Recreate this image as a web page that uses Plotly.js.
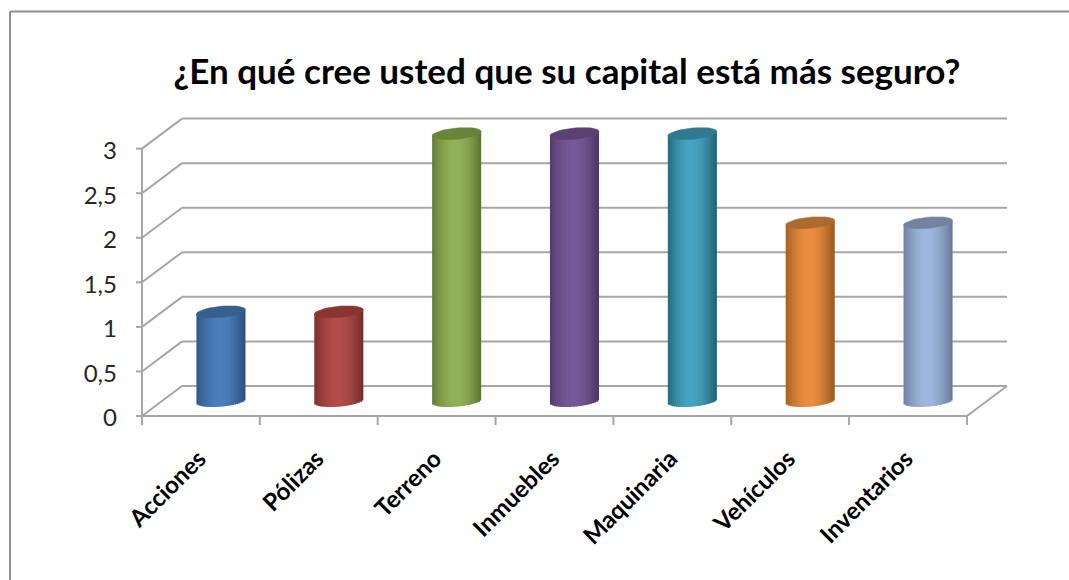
<!DOCTYPE html>
<html><head><meta charset="utf-8">
<script src="https://cdn.plot.ly/plotly-3.0.1.min.js"></script>
<style>html,body{margin:0;padding:0;background:#fff}#c{width:1069px;height:580px}</style>
</head><body><div id="c"></div>
<script>
const categories = ["Acciones","Pólizas","Terreno","Inmuebles","Maquinaria","Vehículos","Inventarios"];
const values = [1,1,3,3,3,2,2];
const yTicks = [0,0.5,1,1.5,2,2.5,3];
const yTickLabels = ["0","0,5","1","1,5","2","2,5","3"];
const midColors = ["#4a7ebb","#b34c49","#93b257","#775a98","#46a4c0","#ea8d40","#9fb7de"];
const edgeColors = ["#2b4f7a","#6f2c2a","#5a7031","#49345f","#205c70","#94581f","#64758f"];
const topColors = ["#355f8c","#893531","#6b8339","#5a4172","#2f7a90","#ab6a2e","#72829f"];

const W=1069,H=580,PAD=3,L=142-PAD,R=1007+PAD,Y0=416+PAD,PXU=89,CATW=(966-142)/7;
const TOP=113.4;
const depthX=40/CATW, depthY=30/PXU;
const xMin=-0.5, xMax=6.5+depthX;
const rx0=xMin-PAD/CATW, rx1=xMax+PAD/CATW, ry0=-PAD/PXU, ry1=(416-TOP)/PXU;
const barW=49/CATW, ea=24.5/CATW, eb=5.6/PXU, tilt=2.2/PXU;

function hex(c){return [1,3,5].map(i=>parseInt(c.substr(i,2),16));}
function mix(a,b,t){const A=hex(a),B=hex(b);return "rgb("+A.map((v,i)=>Math.round(v+(B[i]-v)*t)).join(",")+")";}

const data=[];
const N=24;
for(let s=0;s<N;s++){
  const t0=-1+2*s/N, t1=-1+2*(s+1)/N, t=(t0+t1)/2;
  const shade=Math.min(1,Math.pow(Math.abs(t+0.05)/1.05,1.8));
  const low=depthY/2+tilt*t-eb*Math.sqrt(Math.max(0,1-t*t));
  data.push({
    type:"bar",x:categories,
    base:values.map(()=>low),
    y:values.map(v=>v+depthY/2+tilt*t-low),
    offset:depthX/2+t0*barW/2,
    width:barW/N*(s===N-1?1:1.4),
    marker:{color:midColors.map((m,i)=>mix(m,edgeColors[i],shade)),line:{width:0}},
    hoverinfo:"skip",showlegend:false
  });
}
values.forEach((v,i)=>{
  const xs=[],ys=[];
  for(let k=0;k<=48;k++){
    const a=2*Math.PI*k/48;
    xs.push(i+depthX/2+ea*Math.cos(a));
    ys.push(v+depthY/2+eb*Math.sin(a)+tilt*Math.cos(a));
  }
  data.push({type:"scatter",mode:"lines",xaxis:"x2",yaxis:"y",x:xs,y:ys,fill:"toself",fillcolor:topColors[i],
    line:{width:0.5,color:topColors[i]},hoverinfo:"skip",showlegend:false});
});

const grey="#a6a6a6";
const gl=(x0,y0,x1,y1,c)=>({type:"line",xref:"x",yref:"y",x0,y0,x1,y1,layer:"below",line:{color:c||grey,width:2}});
const shapes=[];
yTicks.forEach(v=>{
  shapes.push(gl(xMin,v,xMin+depthX,v+depthY));
  shapes.push(gl(xMin+depthX,v+depthY,xMax,v+depthY));
});
shapes.push(gl(xMin,0,xMin,3));
shapes.push(gl(xMin,0,6.5,0));
shapes.push(gl(6.5,0,xMax,depthY));
const px=x=>(x-L)/(R-L), py=y=>(Y0-y)/(Y0-TOP);
const frame={color:"#8e8e8e",width:2};
shapes.push({type:"line",xref:"paper",yref:"paper",x0:px(10),y0:py(12),x1:px(1069),y1:py(12),line:frame});
shapes.push({type:"line",xref:"paper",yref:"paper",x0:px(10),y0:py(12),x1:px(10),y1:py(580),line:frame});

Plotly.newPlot("c",data,{
  width:W,height:H,
  margin:{l:L,r:W-R,t:TOP,b:H-Y0,pad:0},
  paper_bgcolor:"#fff",plot_bgcolor:"rgba(0,0,0,0)",
  barmode:"overlay",showlegend:false,separators:",.",
  title:{text:"¿En qué cree usted que su capital está más seguro?",
    font:{family:"Lato, sans-serif",size:35,color:"#000",weight:700},
    x:567/W,xref:"container",xanchor:"center",y:1-72/H,yref:"container",yanchor:"middle"},
  xaxis:{type:"category",categories:categories,range:[rx0,rx1],autorange:false,
    categoryorder:"array",categoryarray:categories,
    tickmode:"array",tickvals:categories,ticktext:categories,tickson:"boundaries",
    ticks:"inside",ticklen:0,showgrid:false,zeroline:false,showline:false,tickangle:-45,
    ticklabelstandoff:20,ticklabelshift:-2,
    tickfont:{family:"Lato, sans-serif",size:24,color:"#000",weight:700}},
  xaxis2:{type:"linear",overlaying:"x",range:[rx0,rx1],autorange:false,visible:false},
  yaxis:{range:[ry0,ry1],autorange:false,tickmode:"array",tickvals:yTicks,ticktext:yTickLabels,
    ticks:"",showgrid:false,zeroline:false,showline:false,ticklabelstandoff:21,ticklabelshift:2,
    tickfont:{family:"Lato, sans-serif",size:24,color:"#262626"}},
  shapes:shapes.concat(
    yTicks.map(v=>({type:"line",xref:"x domain",yref:"y",x0:PAD/(R-L),x1:(PAD-6)/(R-L),y0:v,y1:v,line:{color:grey,width:2}})),
    Array.from({length:categories.length+1},(_,i)=>i-0.5).map(b=>({type:"line",xref:"x",yref:"y domain",x0:b,x1:b,y0:PAD/(Y0-TOP),y1:(PAD-9)/(Y0-TOP),line:{color:grey,width:2}}))
  )
},{displayModeBar:false,staticPlot:true});
</script></body></html>
